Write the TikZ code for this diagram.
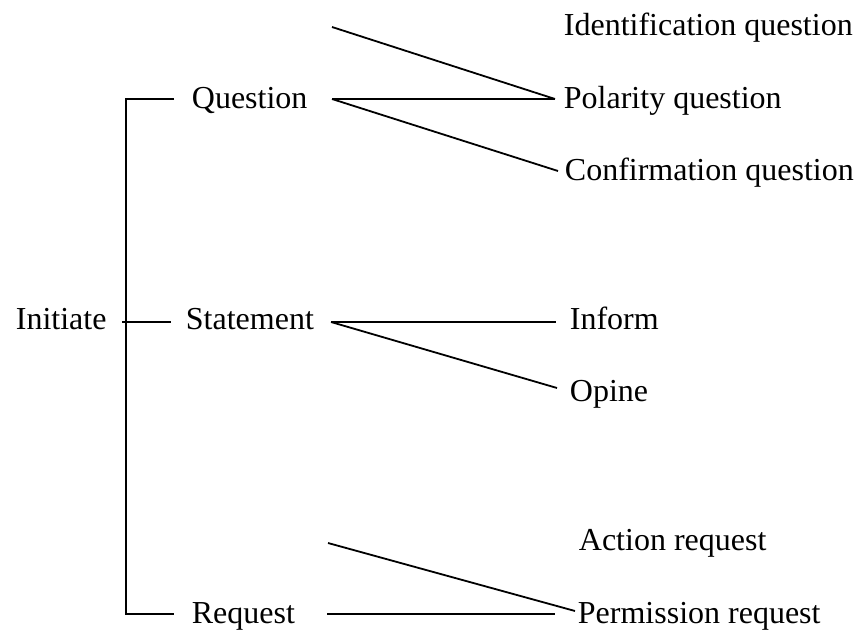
\documentclass[tikz,border=0pt]{standalone}
\usepackage{fontspec}
\setmainfont{Liberation Serif}
\usepackage{tikz}
\usetikzlibrary{positioning}

\begin{document}
\begin{tikzpicture}[x=0.5pt, y=-0.5pt, line width=0.9pt,
		label/.style={anchor=base west, inner sep=0pt, font=\fontsize{16}{19}\selectfont}]
			\useasboundingbox (0, 0) rectangle (856, 630);
			% Labels:
			\node[label] (init) at (15, 330) {Initiate};
			\node[label] (ques) at (191, 109) {Question};
			\node[label] (stat) at (185, 330) {Statement};
			\node[label] (req) at (191, 623) {Request};
			\node[label] (ident) at (563, 36) {Identification question};
			\node[label] (pol) at (563, 109) {Polarity question};
			\node[label] (conf) at (564, 181) {Confirmation question};
			\node[label] (inf) at (569, 330) {Inform};
			\node[label] (opi) at (569, 401) {Opine};
			\node[label] (act) at (578, 550) {Action request};
			\node[label] (perm) at (577, 623) {Permission request};
			% Wire ends:
			\coordinate (quesL) at (174, 99);
			\coordinate (statL) at (171, 322);
			\coordinate (reqL) at (174, 614);
			\coordinate (spine) at (126, 322);
			\coordinate (initR) at (122, 322);
			\coordinate (quesR) at (332, 99);
			\coordinate (quesT) at (332, 27);
			\coordinate (statR) at (331, 322);
			\coordinate (reqR) at (327, 614);
			\coordinate (reqT) at (328, 543);
			\coordinate (polL) at (555, 99);
			\coordinate (confL) at (558, 171);
			\coordinate (infL) at (556, 322);
			\coordinate (opiL) at (557, 388);
			\coordinate (permL) at (575, 611);
			\coordinate (permH) at (555, 614);
			% Paths:
			\draw (quesL) -| (spine) |- (reqL);
			\draw (initR) -- (statL);
			\draw (quesT) -- (polL);
			\draw (quesR) -- (polL);
			\draw (quesR) -- (confL);
			\draw (statR) -- (infL);
			\draw (statR) -- (opiL);
			\draw (reqT) -- (permL);
			\draw (reqR) -- (permH);
		\end{tikzpicture}
\end{document}
